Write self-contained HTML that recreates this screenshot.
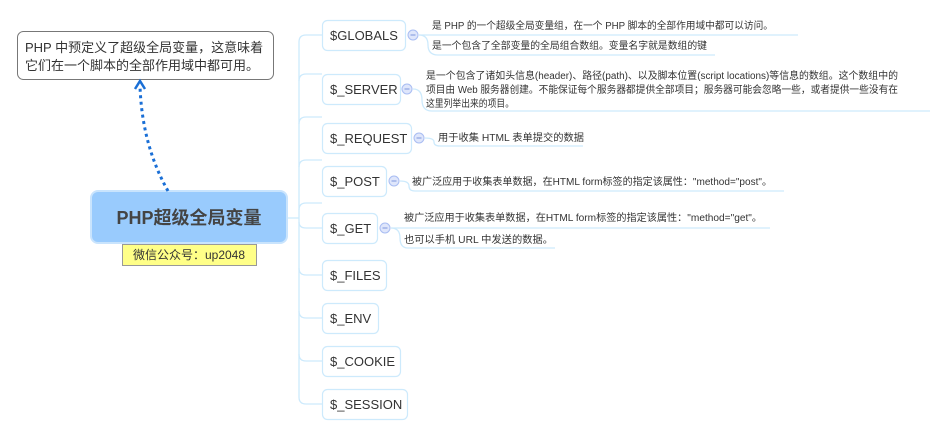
<!DOCTYPE html>
<html><head><meta charset="utf-8">
<style>
html,body{margin:0;padding:0;background:#fff;width:949px;height:436px;overflow:hidden}
svg text{font-family:"Liberation Sans","Noto Sans CJK SC",sans-serif}
</style></head><body>
<svg width="949" height="436" viewBox="0 0 949 436" xmlns="http://www.w3.org/2000/svg">
<g fill="none" stroke="#cdeafc" stroke-width="1.3">
<path d="M287 218 H299"/>
<path d="M322 35 H306 Q299 35 299 42 V397 Q299 404 306 404 H322"/>
<path d="M299 81 Q299 74 306 74 H322"/>
<path d="M299 124 Q299 117 306 117 H322"/>
<path d="M299 167 Q299 160 306 160 H322"/>
<path d="M299 210 Q299 203 306 203 H322"/>
<path d="M299 222 Q299 228 306 228 H322"/>
<path d="M299 268 Q299 275 306 275 H322"/>
<path d="M299 311 Q299 318 306 318 H322"/>
<path d="M299 354 Q299 361 306 361 H322"/>
<path d="M419 35 H798"/>
<path d="M419 35 Q428 35 428 45 Q428 55 438 55 H715"/>
<path d="M413 89 Q422 89 422 100 Q422 111 432 111 H930"/>
<path d="M425 138 Q434 138 434 142 Q434 146 440 146 H583"/>
<path d="M400 181 Q409 181 409 186 Q409 191 415 191 H784"/>
<path d="M391 228 H770"/>
<path d="M391 228 Q400 228 400 238 Q400 248 408 248 H555"/>
</g>
<g fill="#fff" stroke="#cdeafc" stroke-width="1.2">
<rect x="322.5" y="20.5" width="83" height="30" rx="5"/>
<rect x="322.5" y="74.5" width="78" height="30" rx="5"/>
<rect x="322.5" y="123.5" width="89" height="30" rx="5"/>
<rect x="322.5" y="166.5" width="64" height="30" rx="5"/>
<rect x="322.5" y="213.5" width="55" height="30" rx="5"/>
<rect x="322.5" y="260.5" width="64" height="30" rx="5"/>
<rect x="322.5" y="303.5" width="56" height="30" rx="5"/>
<rect x="322.5" y="346.5" width="78" height="30" rx="5"/>
<rect x="322.5" y="389.5" width="85" height="30" rx="5"/>
</g>
<g font-size="13" fill="#333">
<text x="330" y="40">$GLOBALS</text>
<text x="330" y="94">$_SERVER</text>
<text x="330" y="143">$_REQUEST</text>
<text x="330" y="186">$_POST</text>
<text x="330" y="233">$_GET</text>
<text x="330" y="280">$_FILES</text>
<text x="330" y="323">$_ENV</text>
<text x="330" y="366">$_COOKIE</text>
<text x="330" y="409">$_SESSION</text>
</g>
<g fill="#dfe6fb" stroke="#a9bdf2" stroke-width="1">
<circle cx="413" cy="35" r="5"/><circle cx="407" cy="89" r="5"/>
<circle cx="419" cy="138" r="5"/><circle cx="394" cy="181" r="5"/>
<circle cx="385" cy="228" r="5"/>
</g>
<g stroke="#7d95dd" stroke-width="1">
<path d="M410.5 35h5M404.5 89h5M416.5 138h5M391.5 181h5M382.5 228h5"/>
</g>
<g font-size="10" fill="#333" lengthAdjust="spacingAndGlyphs">
<text x="432" y="29" textLength="341" lengthAdjust="spacingAndGlyphs">是 PHP 的一个超级全局变量组，在一个 PHP 脚本的全部作用域中都可以访问。</text>
<text x="432" y="49" textLength="275" lengthAdjust="spacingAndGlyphs">是一个包含了全部变量的全局组合数组。变量名字就是数组的键</text>
<text x="426" y="79" textLength="472" lengthAdjust="spacingAndGlyphs">是一个包含了诸如头信息(header)、路径(path)、以及脚本位置(script locations)等信息的数组。这个数组中的</text>
<text x="426" y="93" textLength="472" lengthAdjust="spacingAndGlyphs">项目由 Web 服务器创建。不能保证每个服务器都提供全部项目；服务器可能会忽略一些，或者提供一些没有在</text>
<text x="426" y="107" textLength="88" lengthAdjust="spacingAndGlyphs">这里列举出来的项目。</text>
<text x="438" y="141" textLength="146" lengthAdjust="spacingAndGlyphs">用于收集 HTML 表单提交的数据</text>
<text x="412" y="185" textLength="360" lengthAdjust="spacingAndGlyphs">被广泛应用于收集表单数据，在HTML form标签的指定该属性："method="post"。</text>
<text x="404" y="221" textLength="358" lengthAdjust="spacingAndGlyphs">被广泛应用于收集表单数据，在HTML form标签的指定该属性："method="get"。</text>
<text x="404" y="243" textLength="149" lengthAdjust="spacingAndGlyphs">也可以手机 URL 中发送的数据。</text>
</g>
<rect x="91" y="191" width="196" height="52" rx="7" fill="#99cbfd" stroke="#c9e4fd" stroke-width="2"/>
<text x="189" y="224" text-anchor="middle" font-size="18" font-weight="bold" fill="#444">PHP超级全局变量</text>
<rect x="122.5" y="244.5" width="134" height="21" fill="#ffff88" stroke="#999"/>
<text x="189" y="259" text-anchor="middle" font-size="12" fill="#333">微信公众号：up2048</text>
<rect x="17.5" y="31.5" width="256" height="48" rx="6" fill="#fff" stroke="#777"/>
<text x="25" y="52" font-size="13" fill="#333">PHP 中预定义了超级全局变量，这意味着</text>
<text x="25" y="70" font-size="13" fill="#333">它们在一个脚本的全部作用域中都可用。</text>
<path d="M168 191 Q142 145 140 86" fill="none" stroke="#1a6fd6" stroke-width="3" stroke-dasharray="3 3.5"/>
<path d="M135 89 L140 81 L145 89" fill="none" stroke="#1a6fd6" stroke-width="2.5"/>
</svg>
</body></html>
